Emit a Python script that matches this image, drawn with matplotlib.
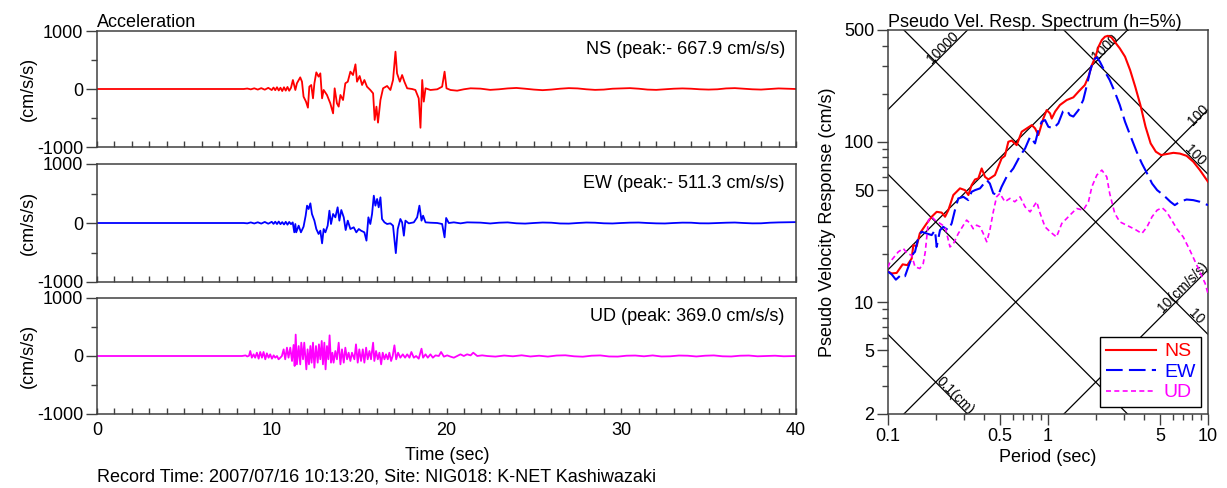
"""K-NET Kashiwazaki (NIG018) record: acceleration traces and pseudo velocity response spectrum."""

import matplotlib

matplotlib.use("Agg")
import matplotlib.pyplot as plt
import numpy as np
from matplotlib.ticker import FixedLocator, NullFormatter

plt.rcParams["font.family"] = ["Liberation Sans", "DejaVu Sans"]
plt.rcParams["axes.unicode_minus"] = False

# ---- acceleration traces: (time s, acc cm/s/s) ----
ns_points = [
    (0, 0), (8.4, 0), (8.6, 8), (8.8, -6), (9.0, 12), (9.2, -10), (9.4, 15), (9.6, -12),
    (9.8, 20), (10.0, -18), (10.1, 25), (10.2, -20), (10.3, 30), (10.4, -25), (10.5, 22),
    (10.6, -35), (10.7, 30), (10.8, -28), (10.9, 35), (11.0, -30), (11.1, 20),
    (11.21, 155), (11.35, -17), (11.44, 98), (11.63, 201), (11.73, 126), (11.82, -132),
    (11.96, -218), (12.07, -322), (12.15, 40), (12.26, 69), (12.36, -161), (12.44, 98),
    (12.55, 287), (12.68, 213), (12.78, 270), (12.88, -161), (12.97, -17), (13.16, -103),
    (13.35, -247), (13.51, -420), (13.60, 12), (13.73, -247), (13.83, -304), (13.93, -103),
    (14.08, -190), (14.21, 98), (14.35, 126), (14.50, 299), (14.65, 241), (14.79, 425),
    (14.88, 126), (15.03, 224), (15.17, 69), (15.30, 155), (15.45, 40), (15.64, -17),
    (15.80, -75), (15.89, -534), (15.99, -304), (16.08, -580), (16.22, -190), (16.37, 12),
    (16.60, 52), (16.79, -17), (16.94, 155), (17.08, 644), (17.17, 270), (17.33, 126),
    (17.46, 241), (17.59, 126), (17.75, 12), (18.03, 0), (18.22, -17), (18.41, -161),
    (18.51, -668), (18.61, 155), (18.70, -218), (18.80, 12), (19.08, -17), (19.47, -5),
    (19.75, 40), (19.89, 299), (20.00, 12), (20.23, -17), (20.61, -29), (20.99, -5),
    (21.38, 12), (21.95, 6), (22.5, -15), (23.0, -5), (23.5, 10), (24.0, 18), (24.5, 5),
    (25.0, -10), (25.5, -20), (26.0, -10), (26.5, 5), (27.0, 15), (27.5, 10), (28.0, -5),
    (28.5, -15), (29.0, -10), (29.5, 5), (30.0, 10), (30.5, 15), (31.0, 5), (31.5, -10),
    (32.0, -15), (32.5, -5), (33.0, 5), (33.5, 10), (34.0, 5), (34.5, -5), (35.0, -10),
    (35.5, -5), (36.0, 10), (36.5, 15), (37.0, 5), (37.5, -5), (38.0, -10), (38.5, 0),
    (39.0, 10), (39.5, 5), (40.0, 0),
]

ew_points = [
    (0, 0), (8.4, 0), (8.6, -6), (8.8, 10), (9.0, -8), (9.2, 12), (9.4, -10), (9.6, 18),
    (9.8, -12), (10.0, 20), (10.1, -15), (10.2, 22), (10.3, -18), (10.4, 25), (10.5, -20),
    (10.6, 15), (10.7, -25), (10.8, 20), (10.9, -28), (11.0, 18), (11.1, -20), (11.2, 10),
    (11.29, -158), (11.35, -17), (11.40, -158), (11.54, -45), (11.67, -158), (11.82, -62),
    (11.94, 124), (12.02, 294), (12.11, 237), (12.21, 333), (12.30, 153), (12.44, 40),
    (12.55, -102), (12.68, -186), (12.78, -130), (12.88, -345), (12.97, -102), (13.07, -158),
    (13.20, -45), (13.30, 209), (13.39, -17), (13.51, 153), (13.64, 96), (13.77, 266),
    (13.87, 40), (13.98, 220), (14.12, 96), (14.23, -119), (14.35, 40), (14.50, -102),
    (14.69, -73), (14.84, -158), (14.98, -102), (15.11, -130), (15.30, -158), (15.42, -299),
    (15.53, 96), (15.64, -17), (15.74, 153), (15.84, 463), (15.93, 294), (16.03, 407),
    (16.12, 266), (16.22, 435), (16.31, 68), (16.45, 11), (16.60, -17), (16.79, -6),
    (16.94, -45), (17.10, -511), (17.21, -102), (17.36, 68), (17.46, 11), (17.56, -215),
    (17.65, 40), (17.84, -6), (18.13, 11), (18.32, 96), (18.45, 294), (18.57, 40),
    (18.66, 124), (18.80, 11), (19.08, 5), (19.47, 0), (19.75, -17), (19.89, -243),
    (19.98, 85), (20.13, 0), (20.42, 11), (20.80, -6), (21.18, 11), (21.95, 6),
    (22.5, -8), (23.0, 5), (23.5, 10), (24.0, -5), (24.5, -10), (25.0, 0), (25.5, 8),
    (26.0, 5), (26.5, -8), (27.0, -10), (27.5, 0), (28.0, 8), (28.5, 5), (29.0, -5),
    (29.5, -8), (30.0, 0), (30.5, 6), (31.0, 8), (31.5, 0), (32.0, -6), (32.5, -8),
    (33.0, 0), (33.5, 6), (34.0, 5), (34.5, -5), (35.0, -6), (35.5, 0), (36.0, 5),
    (36.5, 8), (37.0, 0), (37.5, -6), (38.0, -5), (38.5, 5), (39.0, 10), (39.5, 12),
    (40.0, 15),
]

ud_points = [
    (0, 0), (8.3, 0), (8.5, 10), (8.6, -8), (8.7, 5), (8.77, 86), (8.86, -29), (8.96, 29),
    (9.05, -29), (9.15, 57), (9.25, -46), (9.34, 69), (9.44, -29), (9.53, 69), (9.63, -57),
    (9.72, 46), (9.82, -29), (9.91, 29), (10.01, -46), (10.11, 11), (10.20, -29),
    (10.30, 0), (10.39, -57), (10.49, -29), (10.58, 0),
    (10.68, 115), (10.77, -57), (10.87, 144), (10.96, -29), (11.06, 144), (11.16, -86),
    (11.25, 190), (11.31, -172), (11.37, 369), (11.44, -144), (11.54, 172), (11.63, -144),
    (11.69, 230), (11.79, -57), (11.86, 230), (11.98, -230), (12.05, 115), (12.13, -144),
    (12.21, 172), (12.28, -115), (12.36, 230), (12.44, -201), (12.53, 172), (12.63, -115),
    (12.70, 201), (12.78, -57), (12.86, 259), (12.93, -144), (13.01, 230), (13.08, -230),
    (13.16, 172), (13.24, -57), (13.31, 356), (13.39, -115), (13.47, 57), (13.54, -115),
    (13.64, 86), (13.73, -57), (13.83, 230), (13.93, -144), (14.02, 115), (14.12, -115),
    (14.21, 144), (14.31, -57), (14.40, 57), (14.50, -86), (14.59, 57), (14.73, -57),
    (14.82, 201), (14.92, -115), (15.01, 115), (15.11, -86), (15.21, 115), (15.30, -115),
    (15.40, 144), (15.49, -57), (15.59, 86), (15.68, -57), (15.80, 230), (15.87, -86),
    (15.97, 86), (16.07, -57), (16.16, 57), (16.26, -144), (16.35, 57), (16.45, -57),
    (16.54, 29), (16.64, -57), (16.73, 57), (16.83, -86), (16.92, 0), (17.02, 184),
    (17.12, -57), (17.23, 57), (17.36, -29), (17.50, 29), (17.63, -29), (17.75, 29),
    (17.88, -29), (17.99, 69), (18.13, -29), (18.26, 0), (18.41, -46), (18.57, 126),
    (18.66, -29), (18.80, 29), (18.93, -29), (19.08, 29), (19.22, -29), (19.37, 11),
    (19.56, 0), (19.69, 69), (19.85, -11), (20.04, 11), (20.23, -11), (20.42, -29),
    (20.61, 0), (20.80, 29), (20.99, 0), (21.18, 29), (21.38, 11), (21.53, 57),
    (21.76, 0), (22.04, 11), (22.33, 0), (22.8, -10), (23.3, 8), (23.8, -5), (24.3, 12),
    (24.8, -8), (25.3, 5), (25.8, -10), (26.3, 8), (26.8, 12), (27.3, -5), (27.8, -12),
    (28.3, 5), (28.8, 10), (29.3, -8), (29.8, -10), (30.3, 5), (30.8, 8), (31.3, -5),
    (31.8, 10), (32.3, -8), (32.8, -5), (33.3, 8), (33.8, 5), (34.3, -8), (34.8, 5),
    (35.3, 10), (35.8, -5), (36.3, -8), (36.8, 5), (37.3, 8), (37.8, -5), (38.3, 0),
    (38.8, 5), (39.3, -5), (40.0, 0),
]

trace_names = ["NS", "EW", "UD"]
trace_colors = ["#ff0000", "#0000ff", "#ff00ff"]
trace_peaks = ["NS (peak:- 667.9 cm/s/s)", "EW (peak:- 511.3 cm/s/s)", "UD (peak: 369.0 cm/s/s)"]

# ---- pseudo velocity response spectra: (period s, Sv cm/s) ----
ns_spec = [
    (0.1, 15.5), (0.1054, 15.1), (0.1133, 15.2), (0.1235, 17.2), (0.132, 17.0),
    (0.1406, 18.7), (0.144, 22.7), (0.151, 22.3), (0.158, 26.8), (0.1745, 31.0),
    (0.1875, 34.1), (0.2015, 36.6), (0.2165, 36.2), (0.2273, 34.1), (0.2383, 37.5),
    (0.256, 46.6), (0.2818, 51.3), (0.303, 50.0), (0.318, 46.6), (0.333, 53.7),
    (0.35, 58.3), (0.367, 59.2), (0.385, 68.3), (0.404, 60.5), (0.424, 58.3),
    (0.466, 62.1), (0.489, 70.0), (0.513, 78.9), (0.538, 81.9), (0.565, 100.2),
    (0.593, 102), (0.637, 95.5), (0.685, 115.8), (0.737, 121.5), (0.792, 127.4),
    (0.83, 121.5), (0.871, 110.4), (0.935, 140), (0.981, 158), (1.03, 150.7),
    (1.055, 140), (1.109, 155), (1.187, 170), (1.31, 182.7), (1.44, 189.8), (1.55, 206),
    (1.70, 226.7), (1.79, 255.6), (1.88, 302), (1.98, 340.7), (2.07, 393.6), (2.17, 433),
    (2.27, 454), (2.37, 460), (2.49, 450), (2.61, 422.6), (2.81, 384), (3.03, 340.7),
    (3.26, 281), (3.51, 221), (3.78, 170), (4.07, 124.4), (4.38, 97.9), (4.72, 86.9),
    (5.09, 82.8), (5.51, 84), (6.08, 85.5), (6.67, 84.6), (7.35, 81.9), (8.1, 75.2),
    (8.9, 66.7), (10.0, 56.4),
]

ew_spec = [
    (0.1, 15.5), (0.1054, 14.9), (0.112, 13.8), (0.1218, 14.9), (0.1277, 14.5),
    (0.134, 16.6), (0.144, 20.1), (0.1475, 20.6), (0.155, 25.5), (0.162, 27.5),
    (0.1745, 26.8), (0.1875, 26.2), (0.1966, 28.1), (0.2015, 22.1), (0.2113, 28.1),
    (0.2215, 29.5), (0.2383, 28.1), (0.25, 31.0), (0.262, 37.5), (0.275, 44.4),
    (0.296, 45.4), (0.318, 43.3), (0.333, 48.8), (0.35, 50.0), (0.376, 51.3),
    (0.414, 57.8), (0.433, 55.0), (0.455, 47.7), (0.489, 46.6), (0.513, 52.5),
    (0.551, 60.5), (0.607, 68.3), (0.669, 81.9), (0.719, 91.0), (0.773, 107.7),
    (0.83, 97.9), (0.871, 118.6), (0.913, 133.7), (0.958, 137), (1.005, 124.4),
    (1.081, 121.5), (1.16, 130.7), (1.24, 155), (1.31, 158), (1.37, 147), (1.44, 144),
    (1.55, 158), (1.66, 182.7), (1.74, 221), (1.83, 274.6), (1.92, 324.7), (2.02, 337.5),
    (2.11, 317), (2.27, 274.6), (2.43, 243.5), (2.61, 206), (2.81, 170), (3.03, 133.7),
    (3.26, 110.4), (3.58, 86.9), (3.86, 73.4), (4.16, 63.6), (4.47, 55.0), (4.81, 50.0),
    (5.26, 46.6), (5.82, 42.3), (6.2, 40.3), (6.67, 42.3), (7.35, 43.7), (8.1, 43.3),
    (8.9, 42.3), (10.0, 40.3),
]

ud_spec = [
    (0.1, 16.5), (0.103, 17.8), (0.1054, 18.3), (0.116, 20.6), (0.1247, 21.6),
    (0.132, 20.1), (0.1406, 19.6), (0.1475, 16.6), (0.158, 16.2), (0.166, 17.4),
    (0.171, 20.6), (0.179, 32.5), (0.1875, 34.1), (0.1966, 32.5), (0.2113, 31.0),
    (0.2273, 29.5), (0.244, 22.1), (0.256, 23.1), (0.275, 26.8), (0.296, 30.2),
    (0.31, 32.5), (0.326, 31.0), (0.341, 28.7), (0.358, 30.2), (0.376, 29.5),
    (0.394, 26.8), (0.414, 23.8), (0.433, 28.1), (0.455, 36.6), (0.477, 45.4),
    (0.5, 47.7), (0.538, 42.3), (0.578, 44.4), (0.62, 42.3), (0.669, 45.4),
    (0.719, 39.3), (0.773, 36.6), (0.81, 39.3), (0.85, 42.3), (0.892, 35.9),
    (0.958, 29.5), (1.03, 27.5), (1.13, 25.5), (1.22, 31.0), (1.31, 33.3), (1.41, 35.9),
    (1.51, 38.4), (1.66, 37.5), (1.79, 42.3), (1.88, 52.5), (2.02, 62.1), (2.17, 66.7),
    (2.33, 60.5), (2.43, 47.7), (2.61, 35.9), (2.81, 31.7), (3.1, 30.2), (3.51, 28.4),
    (3.86, 26.8), (4.16, 29.5), (4.47, 34.1), (4.81, 37.5), (5.17, 38.8), (5.51, 36.6),
    (5.93, 32.5), (6.38, 28.7), (7.0, 25.5), (7.7, 21.1), (8.42, 17.4), (9.59, 13.1),
    (10.0, 11.3),
]

spec_styles = [
    ("NS", "#ff0000", "-", 1.5),
    ("EW", "#0000ff", (0, (8, 3)), 1.5),
    ("UD", "#ff00ff", (0, (3, 2)), 1.2),
]

accel_lines = [10, 100, 1000, 10000]      # cm/s/s
disp_lines = [0.1, 1, 10, 100]            # cm
grid_labels = [
    # text, period, Sv, rotation
    ("10000", 0.221, 386, 45),
    ("1000", 2.27, 392, 45),
    ("100", 8.69, 147, 45),
    ("10(cm/s/s)", 6.99, 12.4, 45),
    ("100", 8.25, 83, -45),
    ("10", 8.42, 8.1, -45),
    ("0.1(cm)", 0.262, 2.6, -45),
]

W, H = 1227, 488
fig = plt.figure(figsize=(W / 100, H / 100), dpi=100)
FS = 13
spine_color = "#404040"


def px_rect(x0, y0, x1, y1):
    return [x0 / W, 1 - y1 / H, (x1 - x0) / W, (y1 - y0) / H]


panel_px = [(31, 147), (164, 282), (298, 414)]
series = [ns_points, ew_points, ud_points]
for i, ((y0, y1), pts) in enumerate(zip(panel_px, series)):
    ax = fig.add_axes(px_rect(97, y0, 796, y1))
    t = [p[0] for p in pts]
    a = [p[1] for p in pts]
    ax.plot(t, a, color=trace_colors[i], lw=1.3)
    ax.set_xlim(0, 40)
    ax.set_ylim(-1000, 1000)
    for s in ax.spines.values():
        s.set_color(spine_color)
        s.set_linewidth(1.1)
    ax.set_yticks([-1000, 0, 1000])
    ax.yaxis.set_minor_locator(FixedLocator([-500, 500]))
    ax.tick_params(axis="y", which="major", direction="out", length=8, width=1,
                   labelsize=FS, color=spine_color, pad=2)
    ax.tick_params(axis="y", which="minor", direction="out", length=4, width=1,
                   color=spine_color)
    ax.set_xticks([0, 10, 20, 30, 40])
    ax.xaxis.set_minor_locator(FixedLocator(np.arange(0, 41, 1)))
    ax.tick_params(axis="x", which="both", direction="in", length=4, width=1,
                   labelsize=FS, color=spine_color, pad=6)
    if i < 2:
        ax.tick_params(axis="x", labelbottom=False)
    ax.text(0.984, 0.80, trace_peaks[i], transform=ax.transAxes, ha="right",
            va="baseline", fontsize=FS)
    fig.text(28 / W, 1 - (y0 + y1) / 2 / H, "(cm/s/s)", rotation=90, ha="center",
             va="center", fontsize=FS)

fig.text(97 / W, 1 - 27 / H, "Acceleration", fontsize=FS, va="baseline")
fig.text(447 / W, 1 - 460 / H, "Time (sec)", fontsize=FS, ha="center", va="baseline")
fig.text(97 / W, 1 - 482 / H, "Record Time: 2007/07/16 10:13:20, Site: NIG018: K-NET Kashiwazaki",
         fontsize=FS, va="baseline")

# ---- tripartite response spectrum ----
rx = fig.add_axes(px_rect(888, 30, 1208, 414))
rx.set_xscale("log")
rx.set_yscale("log")
rx.set_xlim(0.1, 10)
rx.set_ylim(2, 500)

periods = np.array([0.1, 10.0])
for acc in accel_lines:
    rx.plot(periods, acc * periods / (2 * np.pi), color="black", lw=0.9, zorder=1)
for disp in disp_lines:
    rx.plot(periods, 2 * np.pi * disp / periods, color="black", lw=0.9, zorder=1)
for text, per, sv, rot in grid_labels:
    rx.text(per, sv, text, rotation=rot, ha="center", va="center", fontsize=10,
            rotation_mode="anchor", zorder=2)

for (name, color, ls, lw), pts in zip(spec_styles, [ns_spec, ew_spec, ud_spec]):
    rx.plot([p[0] for p in pts], [p[1] for p in pts], color=color, ls=ls, lw=lw,
            label=name, zorder=3)

rx.xaxis.set_major_locator(FixedLocator([0.1, 0.5, 1, 5, 10]))
rx.xaxis.set_minor_locator(FixedLocator([0.2, 0.3, 0.4, 0.6, 0.7, 0.8, 0.9,
                                         2, 3, 4, 6, 7, 8, 9]))
rx.set_xticklabels(["0.1", "0.5", "1", "5", "10"])
rx.xaxis.set_minor_formatter(NullFormatter())
rx.yaxis.set_major_locator(FixedLocator([2, 5, 10, 50, 100, 500]))
rx.yaxis.set_minor_locator(FixedLocator([3, 4, 6, 7, 8, 9, 20, 30, 40, 60, 70, 80, 90,
                                         200, 300, 400]))
rx.set_yticklabels(["2", "5", "10", "50", "100", "500"])
rx.yaxis.set_minor_formatter(NullFormatter())
rx.tick_params(which="major", direction="out", length=8, width=1, labelsize=FS,
               color=spine_color, pad=2)
rx.tick_params(which="minor", direction="out", length=4, width=1, color=spine_color)
for s in rx.spines.values():
    s.set_color(spine_color)
    s.set_linewidth(1.1)

leg = rx.legend(loc="lower right", fontsize=14, frameon=True, fancybox=False,
                edgecolor="black", framealpha=1, handlelength=2.6, borderaxespad=0.35,
                labelspacing=0.15, borderpad=0.3, handletextpad=0.4)
leg.get_frame().set_linewidth(1.0)
for txt, (_, color, _, _) in zip(leg.get_texts(), spec_styles):
    txt.set_color(color)

fig.text(888 / W, 1 - 27 / H, "Pseudo Vel. Resp. Spectrum (h=5%)", fontsize=FS, va="baseline")
fig.text(1048 / W, 1 - 462 / H, "Period (sec)", fontsize=FS, ha="center", va="baseline")
fig.text(828 / W, 1 - 222 / H, "Pseudo Velocity Response (cm/s)", rotation=90,
         fontsize=FS, ha="center", va="center")

fig.savefig("out.png", dpi=100)
